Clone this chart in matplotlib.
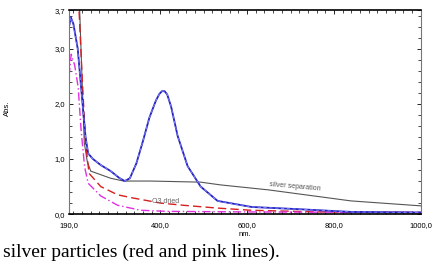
import matplotlib.pyplot as plt
from matplotlib.ticker import MultipleLocator

# spectra (nm, Abs.)
blue_nm = [190, 194, 200, 210, 220, 228, 234, 245, 263, 286, 305, 318, 330, 345, 360, 375, 390, 398, 404, 410, 416, 425, 440, 463, 493, 532, 610, 718, 840, 1000]
blue_abs = [3.4, 3.57, 3.45, 3.0, 2.1, 1.4, 1.1, 1.0, 0.89, 0.78, 0.66, 0.6, 0.65, 0.92, 1.32, 1.75, 2.06, 2.18, 2.23, 2.23, 2.17, 1.95, 1.42, 0.87, 0.5, 0.24, 0.13, 0.09, 0.04, 0.03]

gray_nm = [214, 225, 232, 240, 286, 316, 378, 493, 539, 649, 839, 1000]
gray_abs = [3.8, 1.3, 0.95, 0.78, 0.65, 0.6, 0.6, 0.58, 0.53, 0.44, 0.24, 0.15]

red_nm = [208, 213, 220, 228, 236, 263, 302, 339, 401, 454, 531, 610, 763, 1000]
red_abs = [4.5, 3.7, 2.5, 1.3, 0.74, 0.5, 0.35, 0.29, 0.2, 0.16, 0.11, 0.07, 0.04, 0.03]

pink_nm = [190, 195, 203, 211, 218, 226, 234, 263, 302, 355, 417, 600, 1000]
pink_abs = [2.5, 2.9, 2.7, 2.3, 1.5, 0.85, 0.56, 0.33, 0.16, 0.07, 0.05, 0.04, 0.03]

x_ticks = [190, 400, 600, 800, 1000]
x_labels = ["190,0", "400,0", "600,0", "800,0", "1000,0"]
y_ticks = [0, 1, 2, 3, 3.7]
y_labels = ["0,0", "1,0", "2,0", "3,0", "3,7"]

plt.rcParams['font.family'] = ['Liberation Sans', 'DejaVu Sans']
fig = plt.figure(figsize=(4.37, 2.66), dpi=100)
ax = fig.add_axes([0.158, 0.195, 0.805, 0.767])

ax.plot(gray_nm, gray_abs, color='#555555', lw=0.8)
ax.plot(red_nm, red_abs, color='#d42020', lw=1.0, ls=(0, (6, 3)))
ax.plot(pink_nm, pink_abs, color='#e030e0', lw=1.0, ls=(0, (6, 2, 1, 2)))
ax.plot(blue_nm, blue_abs, color='#2020c0', lw=1.3)
ax.plot(blue_nm, blue_abs, color='#9090ff', lw=0.6, ls=(0, (4, 3)))

ax.set_xlim(190, 1000)
ax.set_ylim(0, 3.7)
ax.set_xticks(x_ticks)
ax.set_xticklabels(x_labels)
ax.set_yticks(y_ticks)
ax.set_yticklabels(y_labels)
ax.xaxis.set_minor_locator(MultipleLocator(20))
ax.yaxis.set_minor_locator(MultipleLocator(0.2))
ax.tick_params(which='both', direction='in', top=True, right=True, labelsize=5.5)
ax.tick_params(axis='x', pad=6)
ax.tick_params(axis='y', pad=3)
ax.tick_params(which='major', length=3, width=0.6)
ax.tick_params(which='minor', length=2, width=0.5)

for s in ['top', 'bottom']:
    ax.spines[s].set_linewidth(1.2)
for s in ['left', 'right']:
    ax.spines[s].set_color('#777777')
    ax.spines[s].set_linewidth(0.8)

ax.set_xlabel("nm.", fontsize=5.5, labelpad=1)
ax.set_ylabel("Abs.", fontsize=5.5)
ax.yaxis.set_label_coords(-0.164, 0.52)

ax.text(650, 0.43, "silver separation", fontsize=5, color='#555555', rotation=-5)
ax.text(380, 0.2, "O3 dried", fontsize=5, color='#666666')

fig.text(0.007, 0.035, "silver particles (red and pink lines).", family='Liberation Serif', fontsize=14)

plt.savefig("out.png", dpi=100)
